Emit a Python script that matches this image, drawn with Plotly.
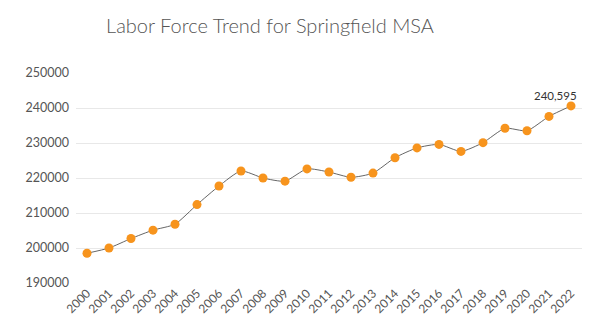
import plotly.graph_objects as go

years = [str(y) for y in range(2000, 2023)]
labor_force = [198500, 200000, 202700, 205100, 206800, 212400, 217700, 222000, 220000, 219100,
               222600, 221700, 220200, 221400, 225800, 228600, 229600, 227600, 230100, 234200,
               233500, 237600, 240595]
y_ticks = [190000, 200000, 210000, 220000, 230000, 240000, 250000]

FONT = "Lato, 'Noto Sans', sans-serif"

fig = go.Figure()
fig.add_trace(go.Scatter(
    x=years, y=labor_force, mode="lines+markers",
    line=dict(color="#666666", width=1, shape="spline", smoothing=0.6),
    marker=dict(color="#F7941D", size=9, line=dict(width=0)),
    hoverinfo="x+y", showlegend=False,
))

fig.add_annotation(
    x=len(years) - 1, y=labor_force[-1], text=f"{labor_force[-1]:,}",
    xref="x", yref="y",
    showarrow=False, yshift=10, xshift=-16, font=dict(family=FONT, size=11.5, color="#333333"),
)

fig.update_layout(
    width=613, height=332,
    margin=dict(l=76, r=31, t=73, b=49),
    paper_bgcolor="white", plot_bgcolor="white",
    title=dict(text="Labor Force Trend for Springfield MSA", x=270/613, xanchor="center",
               xref="container", y=1 - 26/332, yanchor="middle",
               font=dict(family=FONT, size=20, color="#555555", weight=300)),
    font=dict(family=FONT, size=11, color="#555555"),
    xaxis=dict(type="category", range=[-0.5, 22.5], tickangle=-45, showgrid=False,
               showline=False, zeroline=False, ticks="", tickfont=dict(size=12, color="#555555")),
    yaxis=dict(range=[190000 - 1, 250000 + 1], tickvals=y_ticks, ticktext=[str(v) for v in y_ticks],
               showgrid=True, gridcolor="#e8e8e8", gridwidth=1, zeroline=False, showline=False,
               ticks="", ticklabelstandoff=6, tickfont=dict(size=12.5, color="#555555")),
)

fig.write_html("out.html")
